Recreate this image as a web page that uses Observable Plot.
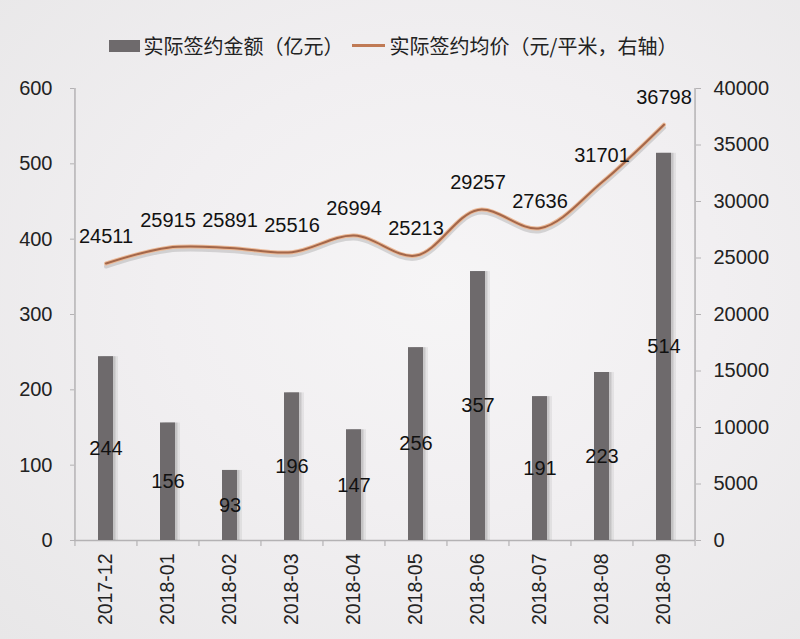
<!DOCTYPE html>
<html>
<head>
<meta charset="utf-8">
<script src="https://cdn.jsdelivr.net/npm/d3@7"></script>
<script src="https://cdn.jsdelivr.net/npm/@observablehq/plot@0.6"></script>
<style>
  html, body { margin: 0; padding: 0; }
  body {
    width: 800px; height: 639px; overflow: hidden;
    background: radial-gradient(ellipse at 55% 45%, #f6f5f6 0%, #f1eff1 45%, #e8e7e8 100%);
    font-family: "Liberation Sans", Arial, sans-serif;
  }
  #legend {
    height: 60px; box-sizing: border-box; padding-top: 31px;
    display: flex; justify-content: center; align-items: center;
    font-family: "Noto Sans CJK SC", sans-serif; font-size: 20px; color: #222;
    padding-right: 14px;
  }
  .item { display: flex; align-items: center; margin: 0 4px; line-height: 24px; }
  .sw-bar { width: 31px; height: 12px; background: #6e6a6c; margin-right: 4px; }
  .sw-line { width: 33px; height: 3px; background: #c07a55; margin-right: 5px; }
  svg { display: block; background: transparent !important; }
</style>
</head>
<body>
<div id="legend">
  <div class="item"><span class="sw-bar"></span><span>实际签约金额（亿元）</span></div>
  <div class="item"><span class="sw-line"></span><span>实际签约均价（元/平米，右轴）</span></div>
</div>
<div id="chart"></div>
<script>
const months = ["2017-12","2018-01","2018-02","2018-03","2018-04","2018-05","2018-06","2018-07","2018-08","2018-09"];
const amount = [244, 156, 93, 196, 147, 256, 357, 191, 223, 514];
const price = [24511, 25915, 25891, 25516, 26994, 25213, 29257, 27636, 31701, 36798];
const leftTicks = [0, 100, 200, 300, 400, 500, 600];
const rightTicks = [0, 5000, 10000, 15000, 20000, 25000, 30000, 35000, 40000];

const k = 600 / 40000;
const rows = months.map((m, i) => ({month: m, amount: amount[i], price: price[i], py: price[i] * k}));
const half = 31.05;
const axisColor = "#b4b2b4";

const chart = Plot.plot({
  width: 800,
  height: 579,
  marginTop: 28,
  marginBottom: 99,
  marginLeft: 74,
  marginRight: 105,
  style: {fontFamily: "Liberation Sans, Arial, sans-serif", fontSize: "20px", color: "#222", background: "transparent"},
  x: {domain: months, paddingInner: 0.76, paddingOuter: 0.38, axis: null, label: null},
  y: {domain: [0, 600], axis: null, label: null},
  marks: [
    Plot.ruleX([months[0]], {x: d => d, dx: -half, y1: 0, y2: 600, stroke: axisColor, strokeWidth: 1.5}),
    Plot.ruleX([months[months.length - 1]], {x: d => d, dx: half, y1: 0, y2: 600, stroke: axisColor, strokeWidth: 1.5}),
    Plot.ruleY([0], {stroke: axisColor, strokeWidth: 1.5}),
    Plot.ruleX(months, {x: d => d, dx: -half, y1: 0, y2: -8, stroke: axisColor, strokeWidth: 1.2}),
    Plot.ruleX([months[months.length - 1]], {x: d => d, dx: half, y1: 0, y2: -8, stroke: axisColor, strokeWidth: 1.2}),
    Plot.axisY(leftTicks, {anchor: "left", label: null, tickSize: 4, tickPadding: 18, stroke: axisColor, fill: "#222", fontSize: 20}),
    Plot.axisY(rightTicks.map(v => v * k), {anchor: "right", label: null, tickSize: 5, tickPadding: 13, stroke: axisColor, fill: "#222", fontSize: 20, tickFormat: v => String(Math.round(v / k))}),
    Plot.axisX(months, {anchor: "bottom", label: null, tickSize: 0, tickPadding: 13, tickRotate: -90, fill: "#222", fontSize: 19.5}),
    Plot.barY(rows, {x: "month", y: "amount", dx: 5, fill: "#000", fillOpacity: 0.06}),
    Plot.barY(rows, {x: "month", y: "amount", dx: 2.5, fill: "#000", fillOpacity: 0.12}),
    Plot.barY(rows, {x: "month", y: "amount", fill: "#6e6a6c"}),
    Plot.text(rows, {x: "month", y: d => d.amount / 2, text: d => String(d.amount), fill: "#111", fontSize: 20}),
    Plot.line(rows, {x: "month", y: "py", dy: 3, curve: "catmull-rom", stroke: "#888", strokeOpacity: 0.3, strokeWidth: 4}),
    Plot.line(rows, {x: "month", y: "py", curve: "catmull-rom", stroke: "#ebb997", strokeWidth: 4}),
    Plot.line(rows, {x: "month", y: "py", curve: "catmull-rom", stroke: "#a4674a", strokeWidth: 2}),
    Plot.text(rows, {x: "month", y: "py", dy: -27, text: d => String(d.price), fill: "#111", fontSize: 20})
  ]
});
document.getElementById("chart").appendChild(chart);
</script>
</body>
</html>
